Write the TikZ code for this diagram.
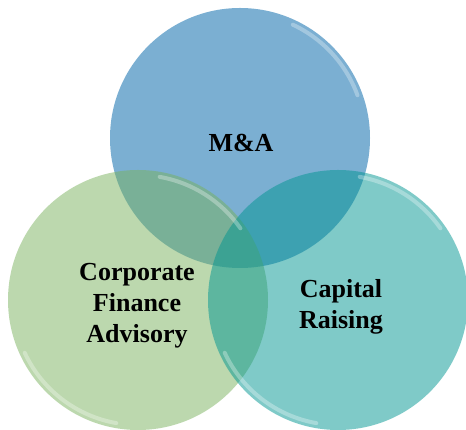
\documentclass[tikz,border=0pt]{standalone}
\usepackage{fontspec}
\setmainfont{Liberation Serif}
\usepackage{tikz}
\usetikzlibrary{positioning,calc}

\definecolor{maBlue}{RGB}{123,175,210}
\definecolor{cfaGreen}{RGB}{121,177,93}
\definecolor{crTeal}{RGB}{0,149,145}

\begin{document}
\begin{tikzpicture}[x=1pt,y=1pt]
% Venn circles

   \tikzstyle{blob} = [shape=circle, minimum size=260pt, inner sep=0pt]
   \tikzstyle{tag} = [align=center, font=\bfseries\fontsize{26}{31}\selectfont, text=black]
   \tikzstyle{rim} = [white, line width=4pt, opacity=0.3, line cap=round]

\useasboundingbox (0,0) rectangle (466,430);

\node at (240,292) [blob, fill=maBlue] (ma) {};
\node at (138,130) [blob, fill=cfaGreen, fill opacity=0.5] (cfa) {};
\node at (338,130) [blob, fill=crTeal, fill opacity=0.5] (cr) {};

% glossy rims
\foreach \c/\a in {ma/20,cfa/35,cr/35}
    \draw[rim] ($(\c.center)+(\a:125)$) arc[start angle=\a, end angle=\a+45, radius=125];
\foreach \c in {cfa,cr}
    \draw[rim] ($(\c.center)+(205:125)$) arc[start angle=205, end angle=260, radius=125];

\node at ($(ma.center)+(1,-5)$) [tag] (maText) {M\&A};
\node at ($(cfa.center)+(-1,-6)$) [tag] (cfaText) {Corporate\\Finance\\Advisory};
\node at ($(cr.center)+(3,-7)$) [tag] (crText) {Capital\\Raising};
\end{tikzpicture}
\end{document}
